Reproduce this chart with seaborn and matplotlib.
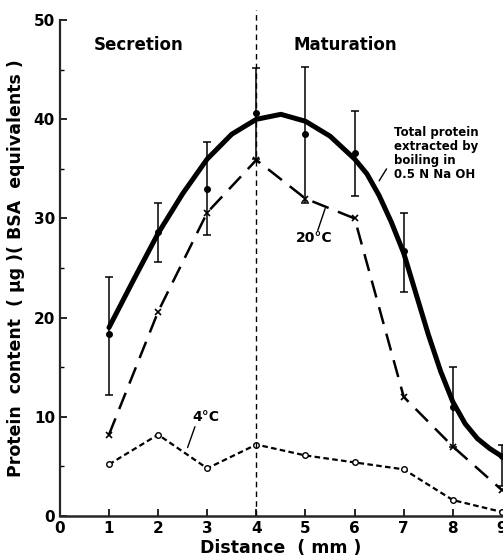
import pandas as pd
import matplotlib.pyplot as plt
import seaborn as sns

# Values
distance = [1, 2, 3, 4, 5, 6, 7, 8, 9]
total_mean = [18.3, 28.6, 33.0, 40.6, 38.5, 36.6, 26.7, 11.0, 6.0]
total_low = [12.2, 25.6, 28.3, 36.0, 31.6, 32.3, 22.6, 7.0, 3.0]
total_high = [24.1, 31.6, 37.7, 45.2, 45.3, 40.8, 30.6, 15.0, 7.2]

# hand-drawn fitted curve through the total protein points
curve_x = [1, 1.5, 2, 2.5, 3, 3.5, 4, 4.5, 5, 5.5, 6, 6.25, 6.5, 6.75, 7,
           7.25, 7.5, 7.75, 8, 8.25, 8.5, 8.75, 9]
curve_y = [19.0, 23.8, 28.5, 32.5, 36.0, 38.5, 40.0, 40.5, 39.8, 38.3, 36.0,
           34.5, 32.3, 29.6, 26.5, 22.4, 18.3, 14.6, 11.5, 9.3, 7.8, 6.8, 6.0]

temp20 = [8.2, 20.6, 30.6, 35.9, 32.0, 30.0, 12.0, 7.0, 2.6]
temp4 = [5.2, 8.2, 4.8, 7.2, 6.1, 5.4, 4.7, 1.6, 0.4]

x_ticks = [0, 1, 2, 3, 4, 5, 6, 7, 8, 9]
y_ticks = [0, 10, 20, 30, 40, 50]

df = pd.DataFrame({"distance": distance, "total": total_mean,
                   "t20": temp20, "t4": temp4})
curve = pd.DataFrame({"x": curve_x, "y": curve_y})

sns.set_style("ticks")
plt.rcParams["font.family"] = ["DejaVu Sans"]
plt.rcParams["font.weight"] = "bold"
plt.rcParams["text.color"] = "black"
plt.rcParams["axes.labelcolor"] = "black"
plt.rcParams["xtick.color"] = "black"
plt.rcParams["ytick.color"] = "black"

fig = plt.figure(figsize=(5.03, 5.59), dpi=100)
ax = fig.add_axes([0.119, 0.077, 0.879, 0.887])

# fitted total protein curve
sns.lineplot(data=curve, x="x", y="y", ax=ax, color="black", lw=3.6,
             solid_capstyle="round", solid_joinstyle="round")

# error bars + points
ax.errorbar(distance, total_mean,
            yerr=[[m - lo for m, lo in zip(total_mean, total_low)],
                  [hi - m for m, hi in zip(total_mean, total_high)]],
            fmt="o", color="black", ms=4, lw=1.1, capsize=3, capthick=1.1,
            clip_on=False, zorder=4)

# 20 C line
sns.lineplot(data=df, x="distance", y="t20", ax=ax, color="black", lw=1.8,
             marker="x", ms=4.5, mew=1.2, mec="black", clip_on=False)
ax.lines[-1].set_dashes([7, 4])

# 4 C line
sns.lineplot(data=df, x="distance", y="t4", ax=ax, color="black", lw=1.6,
             marker="o", ms=4, mfc="white", mec="black", mew=1.0, clip_on=False)
ax.lines[-1].set_dashes([2.5, 1.5])

# secretion / maturation boundary
ax.plot([4, 4], [0, 51], color="black", lw=1.0, ls=(0, (4, 3)), clip_on=False)

ax.set_xlim(0, 9)
ax.set_ylim(0, 50)
ax.set_xticks(x_ticks)
ax.set_yticks(y_ticks)
ax.set_yticks([5, 15, 25, 35, 45], minor=True)
ax.tick_params(axis="both", which="major", direction="in", length=5, width=1.2,
               labelsize=11)
ax.tick_params(axis="y", which="minor", direction="in", length=3, width=1)
sns.despine(ax=ax)
ax.spines["left"].set_linewidth(1.6)
ax.spines["bottom"].set_linewidth(1.8)

ax.set_xlabel("Distance  ( mm )", fontsize=12.5, fontweight="bold", labelpad=2)
ax.set_ylabel("Protein  content  ( \u03bcg )( BSA  equivalents )",
              fontsize=12.5, fontweight="bold", labelpad=6)

ax.text(0.7, 47.5, "Secretion", fontsize=12, fontweight="bold", va="center")
ax.text(4.75, 47.5, "Maturation", fontsize=12, fontweight="bold", va="center")
ax.text(6.8, 36.5, "Total protein\nextracted by\nboiling in\n0.5 N Na OH",
        fontsize=8.5, fontweight="bold", va="center", linespacing=1.1)
ax.plot([6.5, 6.65], [33.8, 35.0], color="black", lw=1)
ax.text(4.8, 28.0, "20\u00b0C", fontsize=10, fontweight="bold", va="center")
ax.plot([5.25, 5.4], [28.8, 31.0], color="black", lw=1)
ax.text(2.7, 10.0, "4\u00b0C", fontsize=10, fontweight="bold", va="center")
ax.plot([2.6, 2.75], [6.9, 9.0], color="black", lw=1)

fig.savefig("out.png", dpi=100)
